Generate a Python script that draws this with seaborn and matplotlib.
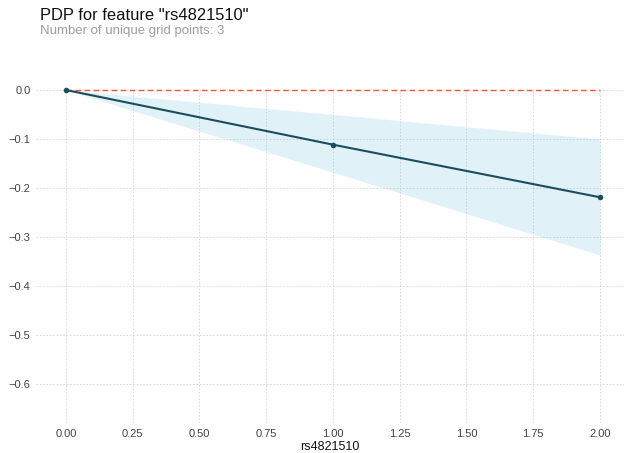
import numpy as np
import pandas as pd
import matplotlib
matplotlib.use("Agg")
import matplotlib.pyplot as plt
import seaborn as sns

grid_points = [0.0, 1.0, 2.0]
pdp_values = [0.0, -0.1116, -0.219]
band_upper = [0.0, -0.050, -0.100]
band_lower = [0.0, -0.168, -0.337]
xticks = [0.0, 0.25, 0.5, 0.75, 1.0, 1.25, 1.5, 1.75, 2.0]
yticks = [0.0, -0.1, -0.2, -0.3, -0.4, -0.5, -0.6]
feature = "rs4821510"

sns.set_style("white")
plt.rcParams['font.family'] = ['Liberation Sans', 'DejaVu Sans']

fig = plt.figure(figsize=(6.24, 4.53), dpi=100)
ax = fig.add_axes([36/624, 1 - 423/453, (624 - 36)/624, (423 - 90)/453])

df = pd.DataFrame({"x": grid_points, "y": pdp_values})
ax.fill_between(grid_points, band_upper, band_lower, color="#66C2D7", alpha=0.2, linewidth=0, zorder=2)
ax.plot([grid_points[0], grid_points[-1]], [0, 0], color="#F0553A", linestyle=(0, (4, 2.5)),
        linewidth=1.0, zorder=3, clip_on=False)
sns.lineplot(data=df, x="x", y="y", ax=ax, color="#1A4E5D", linewidth=1.5,
             marker="o", markersize=4, markeredgewidth=0, zorder=4, clip_on=False)

ax.set_xlim(-0.112, 2.09)
ax.set_ylim(-0.68, 0.0)
ax.set_xticks(xticks)
ax.set_xticklabels([f"{v:.2f}" for v in xticks])
ax.set_yticks(yticks)
ax.set_yticklabels([f"{v:.1f}".replace("-", "\u2212") for v in yticks])
ax.tick_params(axis="both", which="both", length=0, labelsize=8, labelcolor="#424242", pad=4)
ax.grid(True, linestyle=(0, (2, 2)), linewidth=0.6, color="#D3D3D3", zorder=0)
for s in ax.spines.values():
    s.set_visible(False)
ax.set_xlabel(feature, fontsize=9, color="#111111", labelpad=2)
ax.set_ylabel("")

fig.text(40/624, 1 - 8/453, f'PDP for feature "{feature}"', fontsize=11.9, color="#111111", va="top", ha="left")
fig.text(40/624, 1 - 25/453, "Number of unique grid points: 3", fontsize=9.5, color="#9E9E9E", va="top", ha="left")

fig.savefig("out.png", dpi=100)
